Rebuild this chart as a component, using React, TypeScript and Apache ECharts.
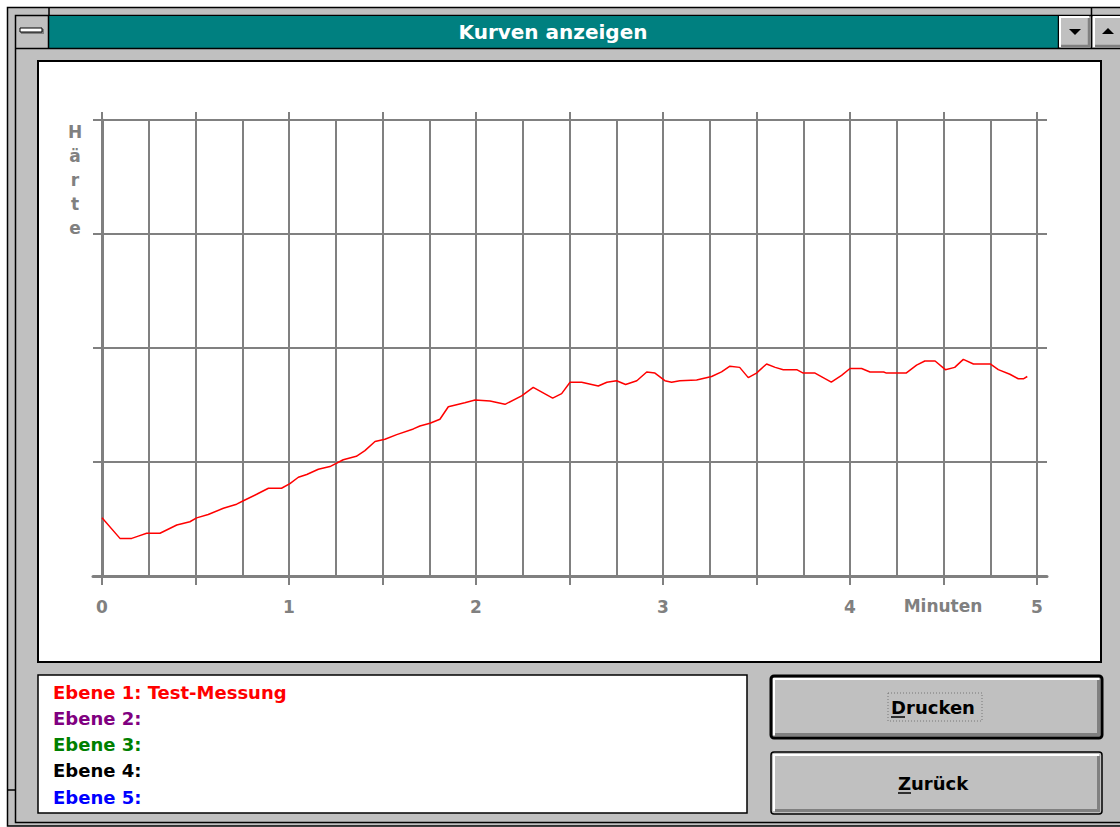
import React, { useEffect, useRef } from "react";
import * as echarts from "echarts";

// ---- data ----
const TIMES_MIN = [
  0, 0.096, 0.159, 0.194, 0.239, 0.31, 0.4, 0.47, 0.506, 0.568, 0.649, 0.72, 0.756, 0.827, 0.89, 0.96,
  1.005, 1.05, 1.095, 1.157, 1.219, 1.29, 1.36, 1.406, 1.46, 1.513, 1.576, 1.665, 1.7, 1.754, 1.807,
  1.852, 1.94, 1.995, 2.075, 2.155, 2.244, 2.306, 2.41, 2.458, 2.503, 2.565, 2.654, 2.7, 2.752, 2.8,
  2.86, 2.913, 2.957, 3.01, 3.046, 3.09, 3.18, 3.26, 3.313, 3.358, 3.41, 3.456, 3.5, 3.554, 3.6, 3.643,
  3.715, 3.75, 3.813, 3.9, 3.955, 4.0, 4.062, 4.107, 4.18, 4.195, 4.3, 4.356, 4.4, 4.455, 4.51, 4.56,
  4.606, 4.66, 4.75, 4.793, 4.855, 4.9, 4.927, 4.948,
];
const HARDNESS = [
  0.51, 0.33, 0.33, 0.35, 0.375, 0.375, 0.447, 0.476, 0.51, 0.54, 0.594, 0.63, 0.66, 0.717, 0.77, 0.77,
  0.81, 0.866, 0.89, 0.936, 0.96, 1.02, 1.05, 1.1, 1.18, 1.2, 1.24, 1.29, 1.316, 1.34, 1.375,
  1.485, 1.52, 1.544, 1.535, 1.506, 1.58, 1.655, 1.56, 1.6, 1.7, 1.7, 1.667, 1.7, 1.713, 1.68,
  1.713, 1.79, 1.78, 1.713, 1.7, 1.713, 1.72, 1.75, 1.79, 1.84, 1.83, 1.74, 1.78, 1.86, 1.83, 1.81,
  1.81, 1.78, 1.78, 1.7, 1.76, 1.82, 1.82, 1.79, 1.79, 1.78, 1.78, 1.85, 1.886, 1.886, 1.81, 1.83,
  1.9, 1.86, 1.86, 1.81, 1.77, 1.73, 1.73, 1.75,
];
const X_TICK_LABELS = ["0", "1", "2", "3", "4", "5"];
const X_AXIS_NAME = "Minuten";
const Y_AXIS_NAME = "Härte";
const TITLE = "Kurven anzeigen";
const LEGEND_ITEMS = ["Ebene 1: Test-Messung", "Ebene 2:", "Ebene 3:", "Ebene 4:", "Ebene 5:"];
const LEGEND_COLORS = ["#ff0000", "#800080", "#008000", "#000000", "#0000ff"];
const BUTTONS = ["Drucken", "Zurück"];

const FONT = "'DejaVu Sans', 'Liberation Sans', sans-serif";
const GRID_GRAY = "#808080";
const FACE = "#c0c0c0";

function buttonGraphics(label: string, y: number, isDefault: boolean, underlineX: [number, number]) {
  const x = 771;
  const w = 331;
  const h = 62;
  const els: any[] = [
    {
      type: "rect",
      shape: { x, y, width: w, height: h, r: 3 },
      style: { fill: FACE, stroke: "#000", lineWidth: isDefault ? 3 : 1.5 },
    },
    {
      type: "polyline",
      shape: { points: [[x + 3, y + h - 3], [x + 3, y + 3], [x + w - 3, y + 3]] },
      style: { stroke: "#fff", lineWidth: 2, fill: null },
    },
    {
      type: "polyline",
      shape: { points: [[x + 4, y + h - 3.5], [x + w - 3.5, y + h - 3.5], [x + w - 3.5, y + 4]] },
      style: { stroke: "#808080", lineWidth: 3, fill: null },
    },
    {
      type: "text",
      x: 933,
      y: y + 31,
      style: {
        text: label,
        fill: "#000",
        font: `bold 18px ${FONT}`,
        align: "center",
        verticalAlign: "middle",
      },
      z: 2,
    },
    {
      type: "line",
      shape: { x1: underlineX[0], y1: y + 41, x2: underlineX[1], y2: y + 41 },
      style: { stroke: "#000", lineWidth: 1.5 },
      z: 2,
    },
  ];
  if (isDefault) {
    els.push({
      type: "rect",
      shape: { x: 888, y: y + 17, width: 94, height: 28 },
      style: { fill: null, stroke: "#777", lineWidth: 1, lineDash: [1, 2] },
      z: 2,
    });
  }
  return els;
}

export default function App() {
  const ref = useRef<HTMLDivElement>(null);

  useEffect(() => {
    if (!ref.current) return;
    const chart = echarts.init(ref.current, null, { renderer: "svg" });
    const data = TIMES_MIN.map((t, i) => [t, HARDNESS[i]]);

    const graphic: any[] = [
      // window frame
      {
        type: "rect",
        shape: { x: 7.5, y: 7.5, width: 1130, height: 818.5 },
        style: { fill: FACE, stroke: "#000", lineWidth: 1.5 },
      },
      {
        type: "rect",
        shape: { x: 15.5, y: 15.5, width: 1120, height: 807 },
        style: { fill: null, stroke: "#000", lineWidth: 1.5 },
      },
      { type: "line", shape: { x1: 7, y1: 790, x2: 15, y2: 790 }, style: { stroke: "#000", lineWidth: 1.5 } },
      { type: "line", shape: { x1: 49, y1: 7, x2: 49, y2: 15 }, style: { stroke: "#000", lineWidth: 1.5 } },
      // title bar
      {
        type: "rect",
        shape: { x: 49, y: 16, width: 1009, height: 32 },
        style: { fill: "#008080" },
      },
      { type: "line", shape: { x1: 16, y1: 48.5, x2: 1120, y2: 48.5 }, style: { stroke: "#000", lineWidth: 1.5 } },
      { type: "line", shape: { x1: 48.5, y1: 16, x2: 48.5, y2: 48 }, style: { stroke: "#000", lineWidth: 1.5 } },
      { type: "line", shape: { x1: 1058.5, y1: 16, x2: 1058.5, y2: 48 }, style: { stroke: "#000", lineWidth: 1.5 } },
      { type: "line", shape: { x1: 1091.5, y1: 7, x2: 1091.5, y2: 48 }, style: { stroke: "#000", lineWidth: 1.5 } },
      {
        type: "text",
        x: 553,
        y: 32,
        style: {
          text: TITLE,
          fill: "#fff",
          font: `bold 20px ${FONT}`,
          align: "center",
          verticalAlign: "middle",
        },
      },
      // system menu
      {
        type: "rect",
        shape: { x: 21, y: 29, width: 23, height: 5 },
        style: { fill: "#808080" },
      },
      {
        type: "rect",
        shape: { x: 20, y: 28, width: 22, height: 4 },
        style: { fill: "#fff", stroke: "#000", lineWidth: 1 },
      },
      // down button
      {
        type: "polyline",
        shape: { points: [[1060, 47], [1060, 17], [1089, 17]] },
        style: { stroke: "#fff", lineWidth: 2, fill: null },
      },
      {
        type: "polyline",
        shape: { points: [[1061, 46], [1089, 46], [1089, 18]] },
        style: { stroke: "#808080", lineWidth: 2.5, fill: null },
      },
      {
        type: "polygon",
        shape: { points: [[1069, 29], [1081, 29], [1075, 35]] },
        style: { fill: "#000" },
      },
      // up button
      {
        type: "polyline",
        shape: { points: [[1094, 47], [1094, 17], [1120, 17]] },
        style: { stroke: "#fff", lineWidth: 2, fill: null },
      },
      {
        type: "polyline",
        shape: { points: [[1095, 46], [1120, 46]] },
        style: { stroke: "#808080", lineWidth: 2.5, fill: null },
      },
      {
        type: "polygon",
        shape: { points: [[1102, 34], [1114, 34], [1108, 28]] },
        style: { fill: "#000" },
      },
      // chart panel
      {
        type: "rect",
        shape: { x: 38, y: 61, width: 1063, height: 601 },
        style: { fill: "#fff", stroke: "#000", lineWidth: 2 },
      },
      // axis names
      {
        type: "text",
        x: 75,
        y: 120,
        style: {
          text: Y_AXIS_NAME.split("").join("\n"),
          fill: GRID_GRAY,
          font: `bold 17px ${FONT}`,
          lineHeight: 24,
          align: "center",
          verticalAlign: "top",
        },
      },
      {
        type: "text",
        x: 943,
        y: 606,
        style: {
          text: X_AXIS_NAME,
          fill: GRID_GRAY,
          font: `bold 17px ${FONT}`,
          align: "center",
          verticalAlign: "middle",
        },
      },
      // legend box
      {
        type: "rect",
        shape: { x: 38, y: 675, width: 709, height: 138 },
        style: { fill: "#fff", stroke: "#000", lineWidth: 1.5 },
      },
      ...LEGEND_ITEMS.map((t, i) => ({
        type: "text",
        x: 53,
        y: 692 + i * 26.25,
        style: {
          text: t,
          fill: LEGEND_COLORS[i],
          font: `bold 18px ${FONT}`,
          align: "left",
          verticalAlign: "middle",
        },
      })),
      ...buttonGraphics(BUTTONS[0], 676, true, [891, 905]),
      ...buttonGraphics(BUTTONS[1], 752, false, [898, 911]),
    ];

    const option: any = {
      animation: false,
      backgroundColor: "#fff",
      graphic,
      grid: [
        { left: 93, top: 120, width: 954, height: 456, containLabel: false },
        { left: 102, top: 120, width: 935, height: 456, containLabel: false },
      ],
      xAxis: [
        {
          gridIndex: 0,
          type: "value",
          min: 0,
          max: 1,
          z: 3,
          axisLine: { show: true, onZero: false, lineStyle: { color: GRID_GRAY, width: 3 } },
          axisTick: { show: false },
          axisLabel: { show: false },
          splitLine: { show: false },
        },
        {
          gridIndex: 1,
          type: "value",
          min: 0,
          max: 5,
          interval: 0.25,
          z: 3,
          axisLine: { show: false },
          axisTick: { show: false },
          axisLabel: { show: false },
          splitLine: { show: true, showMinLine: true, showMaxLine: true, lineStyle: { color: GRID_GRAY, width: 2 } },
        },
        {
          gridIndex: 1,
          type: "value",
          position: "bottom",
          min: 0,
          max: 5,
          interval: 0.5,
          z: 3,
          axisLine: { show: false, onZero: false },
          axisTick: { show: true, inside: false, length: 9, lineStyle: { color: GRID_GRAY, width: 2 } },
          axisLabel: {
            show: true,
            margin: 22,
            color: GRID_GRAY,
            fontFamily: FONT,
            fontWeight: "bold",
            fontSize: 17,
            showMinLabel: true,
            showMaxLabel: true,
            formatter: (v: number) => (Number.isInteger(v) ? X_TICK_LABELS[v] : ""),
          },
          splitLine: { show: false },
        },
        {
          gridIndex: 1,
          type: "value",
          position: "top",
          min: 0,
          max: 5,
          interval: 0.5,
          z: 3,
          axisLine: { show: false, onZero: false },
          axisTick: { show: true, inside: false, length: 8, lineStyle: { color: GRID_GRAY, width: 2 } },
          axisLabel: { show: false },
          splitLine: { show: false },
        },
      ],
      yAxis: [
        {
          gridIndex: 0,
          type: "value",
          min: 0,
          max: 4,
          interval: 1,
          z: 3,
          axisLine: { show: false },
          axisTick: { show: false },
          axisLabel: { show: false },
          splitLine: { show: true, showMinLine: true, showMaxLine: true, lineStyle: { color: GRID_GRAY, width: 2 } },
        },
        {
          gridIndex: 1,
          type: "value",
          min: 0,
          max: 4,
          interval: 1,
          z: 3,
          axisLine: { show: true, onZero: false, lineStyle: { color: GRID_GRAY, width: 3 } },
          axisTick: { show: false },
          axisLabel: { show: false },
          splitLine: { show: false },
        },
      ],
      series: [
        {
          type: "line",
          name: LEGEND_ITEMS[0],
          xAxisIndex: 2,
          yAxisIndex: 1,
          data,
          z: 4,
          showSymbol: false,
          symbol: "none",
          lineStyle: { color: "#ff0000", width: 1.5 },
        },
      ],
    };
    chart.setOption(option);
    return () => chart.dispose();
  }, []);

  return (
    <div
      ref={ref}
      style={{ position: "fixed", left: 0, top: 0, width: 1120, height: 827, background: "#fff" }}
    />
  );
}
